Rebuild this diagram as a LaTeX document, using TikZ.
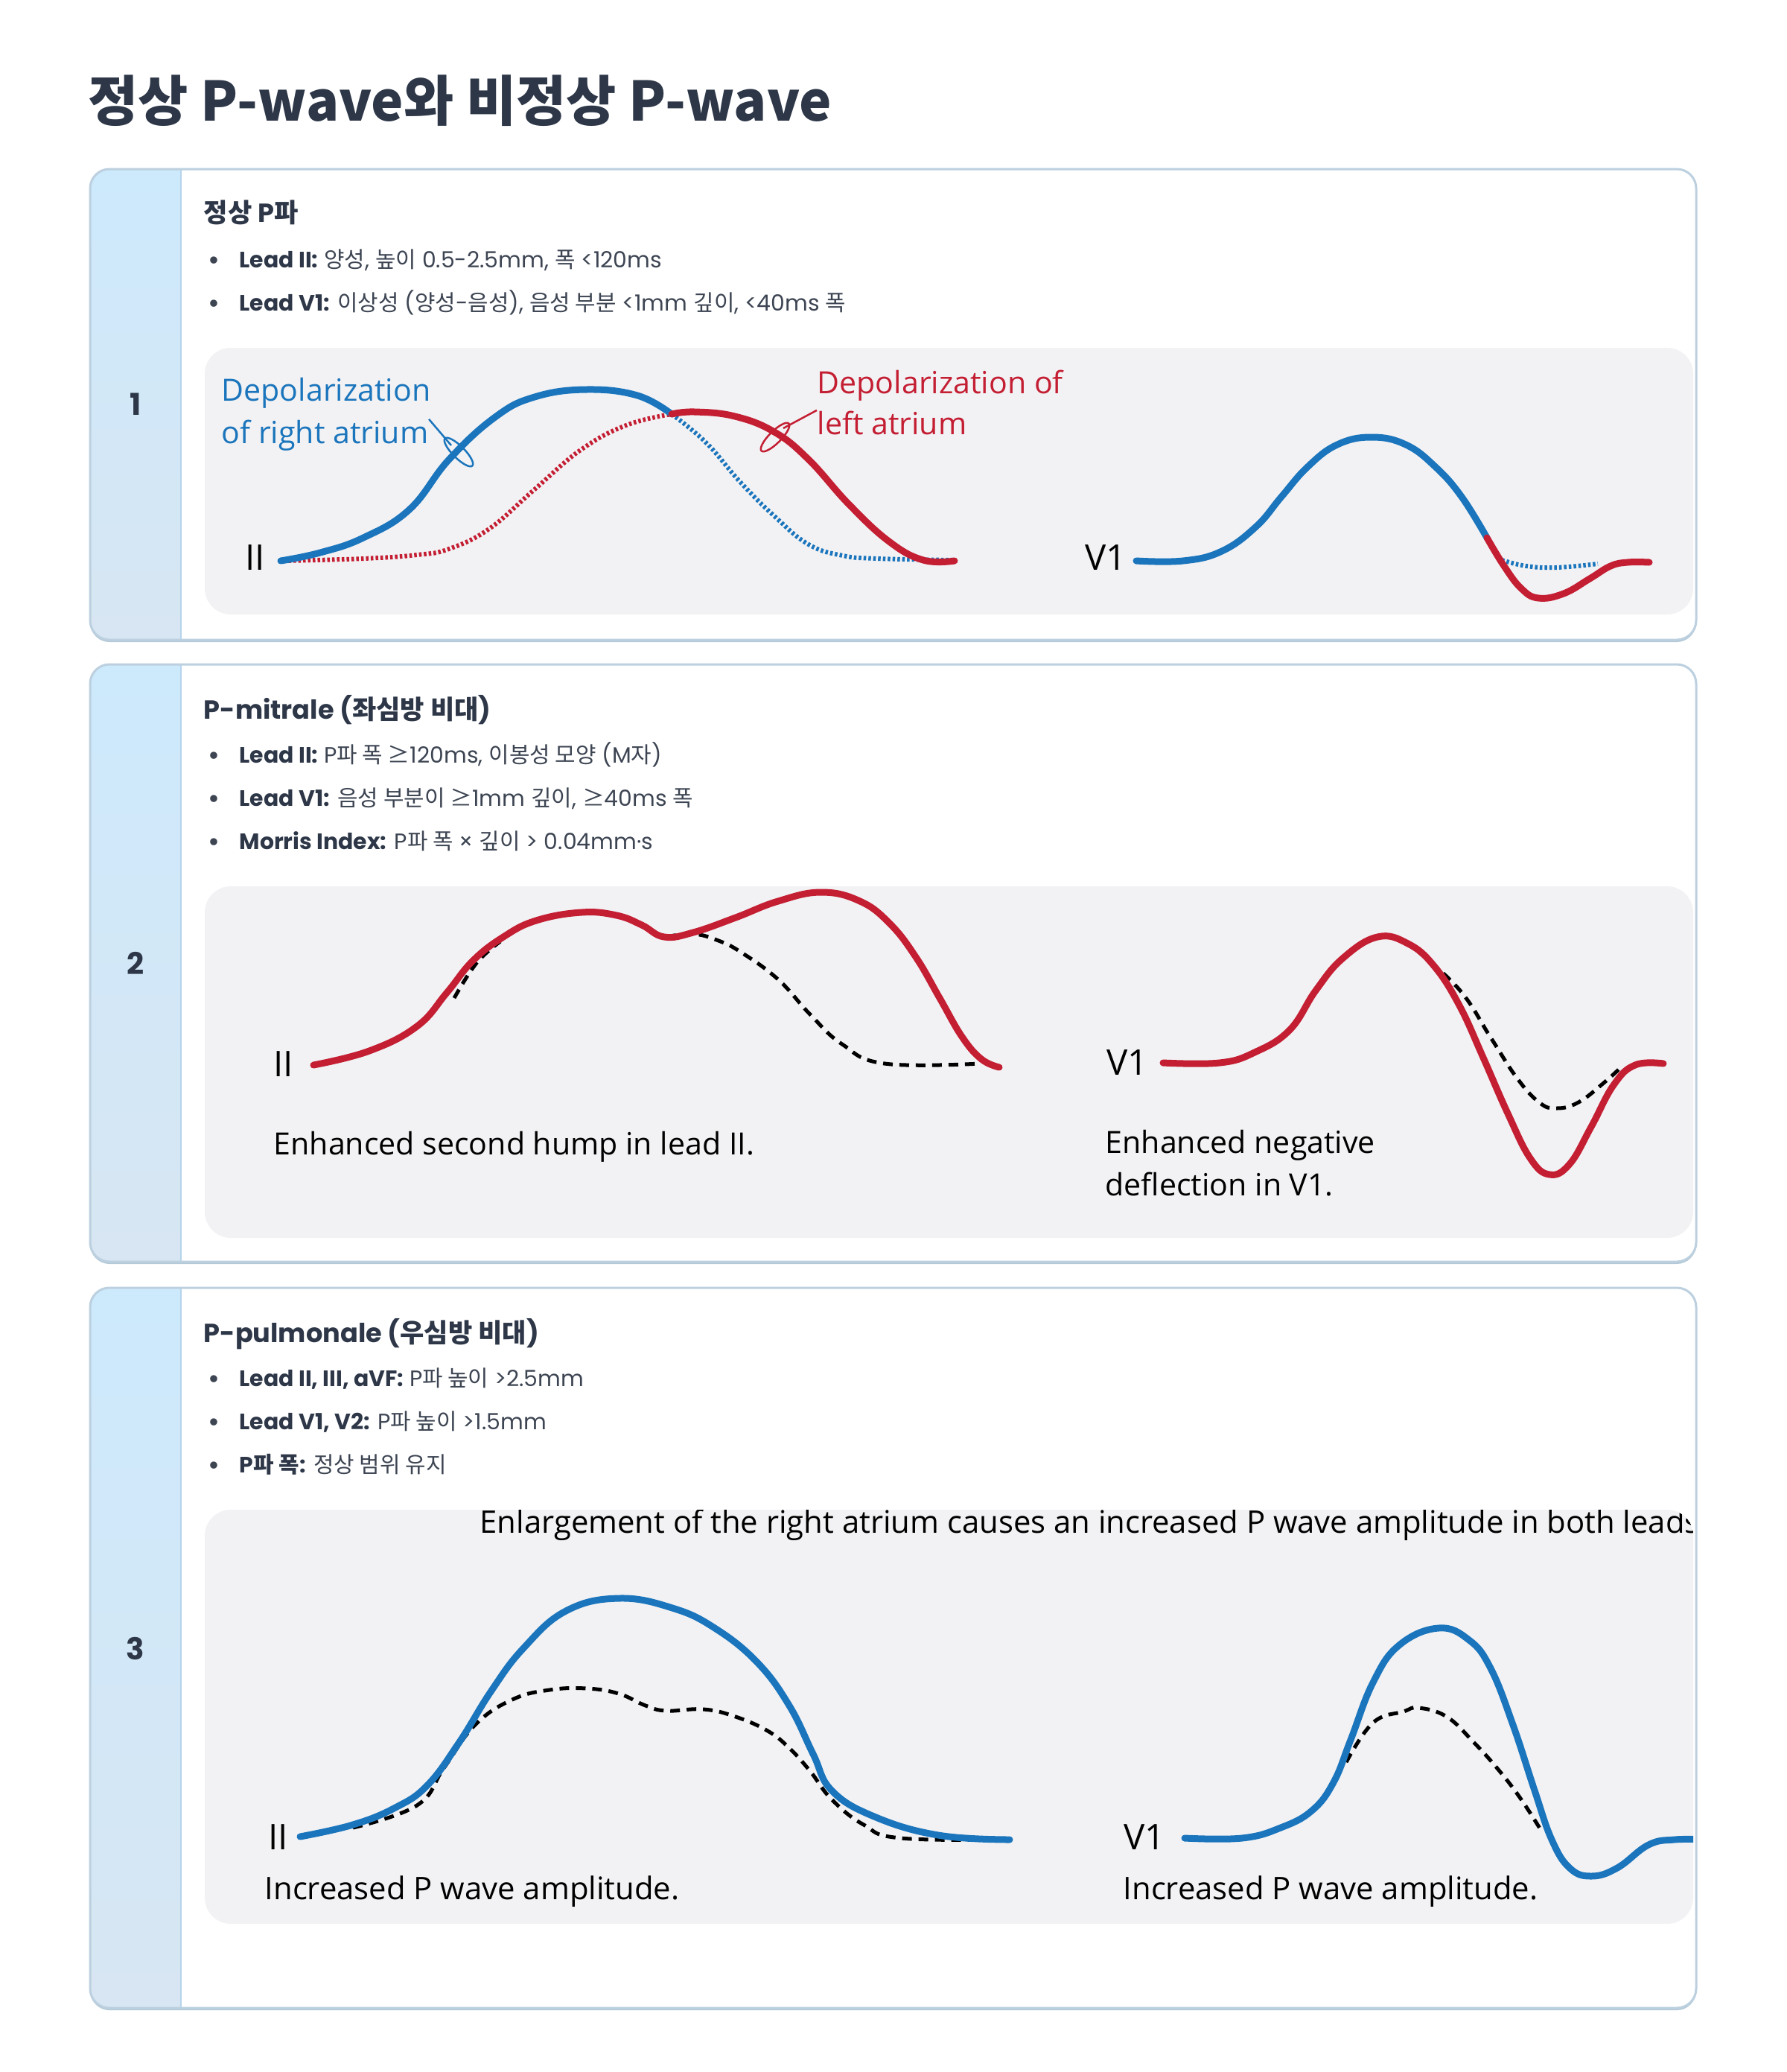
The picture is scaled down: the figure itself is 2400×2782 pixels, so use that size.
\documentclass[tikz,border=0pt]{standalone}
\usepackage{fontspec}
\setmainfont{Poppins}
\newfontfamily\krfont{Noto Sans CJK KR}
\newfontfamily\panelfont{Open Sans}
\newcommand\kr[1]{{\krfont #1}}
\newcommand\bul{\makebox[4.2mm][l]{\raisebox{-0.2ex}{\fontsize{11}{11}\selectfont•}}}
\newcommand\lbl[1]{\textcolor{ink}{\textbf{#1}}}

\definecolor{ink}{HTML}{2D3748}
\definecolor{txt}{HTML}{3D4553}
\definecolor{cardline}{HTML}{BCD0DF}
\definecolor{cardshadow}{HTML}{B3C9D8}
\definecolor{striptop}{HTML}{CDE9FC}
\definecolor{stripbot}{HTML}{D7E6F2}
\definecolor{stripedge}{HTML}{B5D4EC}
\definecolor{panelbg}{HTML}{F2F2F4}
\definecolor{ecgblue}{HTML}{1B75BC}
\definecolor{ecgred}{HTML}{C41E33}

\tikzset{
  cardbody/.style={fill=white, rounded corners=2.6mm},
  cardedge/.style={draw=cardline, line width=0.3mm, rounded corners=2.6mm},
  strip/.style={top color=striptop, bottom color=stripbot},
  stripline/.style={draw=stripedge, line width=0.15mm},
  panel/.style={fill=panelbg, rounded corners=3.5mm},
  head/.style={anchor=base west, inner sep=0, text=ink, font=\fontsize{10}{12}\selectfont\bfseries},
  item/.style={anchor=base west, inner sep=0, text=txt, font=\fontsize{8.5}{10}\selectfont},
  num/.style={inner sep=0, text=ink, font=\fontsize{11.5}{13}\selectfont\bfseries},
  leadname/.style={anchor=base west, inner sep=0, font=\panelfont\fontsize{13.5}{16}\selectfont},
  figtext/.style={anchor=base west, inner sep=0, font=\panelfont\fontsize{11.7}{14}\selectfont},
  bigtext/.style={anchor=base west, inner sep=0, font=\panelfont\fontsize{11.9}{14}\selectfont},
  wave/.style={smooth, tension=0.7},
  bluewave/.style={draw=ecgblue, line width=0.9mm, line cap=round, line join=round},
  redwave/.style={draw=ecgred, line width=0.9mm, line cap=round, line join=round},
  bluedots/.style={draw=ecgblue, line width=0.6mm, dash pattern=on 0.35mm off 0.3mm},
  reddots/.style={draw=ecgred, line width=0.6mm, dash pattern=on 0.35mm off 0.3mm},
  normwave/.style={draw=black, line width=0.5mm, dash pattern=on 1.3mm off 0.9mm},
  leader/.style={line width=0.25mm},
}

\begin{document}
\begin{tikzpicture}[x=0.1mm, y=-0.1mm]
    \fill[white] (0,0) rectangle (2400,2782);
    \useasboundingbox (0,0) rectangle (2400,2782);

    % 제목
    \node[anchor=base west, inner sep=0, text=ink, font=\krfont\bfseries\fontsize{20.8}{25}\selectfont] (title) at (118,162) {정상 P-wave와 비정상 P-wave};

    % 카드 1
    \fill[cardshadow, rounded corners=2.6mm] (121,230) rectangle (2278,862);
    \fill[cardbody] (121,227) rectangle (2278,859);
    \begin{scope}
        \clip[rounded corners=2.6mm] (121,227) rectangle (2278,859);
        \shade[strip] (121,227) rectangle (243,859);
    \end{scope}
    \draw[stripline] (243,227) -- (243,859);
    \draw[cardedge] (121,227) rectangle (2278,859);
    \node[num] (n1) at (182,543) {1};
    \node[head] (h1) at (273,298) {\kr{정상 }P\kr{파}};
    \node[item] (b11) at (279,359) {\bul\lbl{Lead II:} \kr{양성}, \kr{높이} 0.5-2.5mm, \kr{폭} <120ms};
    \node[item] (b12) at (279,417) {\bul\lbl{Lead V1:} \kr{이상성} (\kr{양성}-\kr{음성}), \kr{음성 부분} <1mm \kr{깊이}, <40ms \kr{폭}};

    \fill[panel] (275,467) rectangle (2274,825);
    % II
    \node[leadname] (l1a) at (329,765) {II};
    \draw[reddots] plot[wave] coordinates {(381,753) (488,750) (560,745) (603,737) (657,710) (718,657) (780,604) (841,571) (902,556)};
    \draw[bluedots] plot[wave] coordinates {(902,556) (948,594) (994,647) (1040,693) (1086,731) (1132,746) (1179,750) (1282,752)};
    \draw[bluewave] plot[wave] coordinates {(377,753) (430,742) (488,722) (550,684) (603,617) (665,560) (718,533) (787,523) (856,531) (902,556)};
    \draw[redwave] plot[wave] coordinates {(902,556) (933,553) (987,559) (1040,580) (1086,617) (1140,677) (1194,727) (1240,752) (1282,753)};
    \node[figtext, text=ecgblue] (ra1) at (297,538) {Depolarization};
    \node[figtext, text=ecgblue] (ra2) at (297,595) {of right atrium};
    \node[figtext, text=ecgred] (la1) at (1097,528) {Depolarization of};
    \node[figtext, text=ecgred] (la2) at (1097,583) {left atrium};
    \coordinate (rloop) at (606,598);
    \coordinate (lloop) at (1052,575);
    \draw[leader, ecgblue] (ra2.north east) -- (rloop);
    \draw[leader, ecgblue, rotate around={-45:(616,607)}] (616,607) ellipse [x radius=2.6mm, y radius=0.8mm];
    \draw[leader, ecgred] (la2.north west) -- (lloop);
    \draw[leader, ecgred, rotate around={45:(1041,587)}] (1041,587) ellipse [x radius=2.6mm, y radius=0.8mm];
    % V1
    \node[leadname] (l1b) at (1457,765) {V1};
    \draw[bluedots] plot[wave] coordinates {(2017,752) (2050,760) (2090,762) (2146,757)};
    \draw[bluewave] plot[wave] coordinates {(1526,753) (1589,753) (1641,740) (1687,707) (1721,667) (1756,627) (1796,597) (1842,587) (1888,597) (1928,627) (1963,667) (1997,722)};
    \draw[redwave] plot[wave] coordinates {(1997,722) (2020,760) (2043,790) (2066,803) (2100,797) (2135,777) (2163,760) (2186,755) (2215,755)};

    % 카드 2
    \fill[cardshadow, rounded corners=2.6mm] (121,895) rectangle (2278,1697);
    \fill[cardbody] (121,892) rectangle (2278,1694);
    \begin{scope}
        \clip[rounded corners=2.6mm] (121,892) rectangle (2278,1694);
        \shade[strip] (121,892) rectangle (243,1694);
    \end{scope}
    \draw[stripline] (243,892) -- (243,1694);
    \draw[cardedge] (121,892) rectangle (2278,1694);
    \node[num] (n2) at (182,1293) {2};
    \node[head] (h2) at (273,965) {P-mitrale (\kr{좌심방 비대})};
    \node[item] (b21) at (279,1024) {\bul\lbl{Lead II:} P\kr{파 폭 ≥}120ms, \kr{이봉성 모양} (M\kr{자})};
    \node[item] (b22) at (279,1082) {\bul\lbl{Lead V1:} \kr{음성 부분이 ≥}1mm \kr{깊이}, \kr{≥}40ms \kr{폭}};
    \node[item] (b23) at (279,1140) {\bul\lbl{Morris Index:} P\kr{파 폭} × \kr{깊이} > 0.04mm·s};

    \fill[panel] (275,1190) rectangle (2274,1662);
    % II
    \node[leadname] (l2a) at (367,1445) {II};
    \draw[normwave] plot[wave] coordinates {(610,1340) (640,1293) (672,1264)};
    \draw[normwave] plot[wave] coordinates {(895,1258) (931,1254) (965,1263) (996,1279) (1045,1315) (1088,1362) (1131,1402) (1188,1428) (1317,1428)};
    \draw[redwave] plot[wave] coordinates {(421,1430) (496,1411) (560,1378) (600,1333) (635,1290) (676,1258) (720,1236) (781,1225) (828,1229) (862,1242) (892,1258) (931,1252) (988,1232) (1045,1210) (1103,1198) (1155,1210) (1195,1240) (1230,1285) (1262,1340) (1292,1392) (1318,1422) (1342,1433)};
    \node[figtext] (t2a) at (367,1550) {Enhanced second hump in lead II.};
    % V1
    \node[leadname] (l2b) at (1486,1443) {V1};
    \draw[normwave] plot[wave] coordinates {(1905,1278) (1961,1330) (2002,1393) (2037,1447) (2067,1480) (2090,1488) (2120,1480) (2155,1453) (2178,1432)};
    \draw[redwave] plot[wave] coordinates {(1562,1427) (1638,1427) (1685,1413) (1732,1383) (1767,1330) (1803,1287) (1850,1258) (1891,1267) (1926,1297) (1960,1350) (1992,1420) (2025,1495) (2055,1555) (2081,1577) (2108,1563) (2137,1513) (2167,1457) (2196,1430) (2234,1428)};
    \node[figtext] (t2b) at (1484,1548) {Enhanced negative};
    \node[figtext] (t2c) at (1484,1605) {deflection in V1.};

    % 카드 3
    \fill[cardshadow, rounded corners=2.6mm] (121,1732) rectangle (2278,2699);
    \fill[cardbody] (121,1729) rectangle (2278,2696);
    \begin{scope}
        \clip[rounded corners=2.6mm] (121,1729) rectangle (2278,2696);
        \shade[strip] (121,1729) rectangle (243,2696);
    \end{scope}
    \draw[stripline] (243,1729) -- (243,2696);
    \draw[cardedge] (121,1729) rectangle (2278,2696);
    \node[num] (n3) at (182,2213) {3};
    \node[head] (h3) at (273,1802) {P-pulmonale (\kr{우심방 비대})};
    \node[item] (b31) at (279,1861) {\bul\lbl{Lead II, III, aVF:} P\kr{파 높이} >2.5mm};
    \node[item] (b32) at (279,1919) {\bul\lbl{Lead V1, V2:} P\kr{파 높이} >1.5mm};
    \node[item] (b33) at (279,1977) {\bul\lbl{P\kr{파 폭}:} \kr{정상 범위 유지}};

    \fill[panel] (275,2027) rectangle (2274,2583);
    \begin{scope}
        \clip[rounded corners=3.5mm] (275,2027) rectangle (2274,2583);
        \node[bigtext] (t3top) at (644,2058) {Enlargement of the right atrium causes an increased P wave amplitude in both leads};
        % II
        \node[leadname] (l3a) at (360,2483) {II};
        \draw[normwave] plot[wave] coordinates {(474,2454) (560,2424) (596,2374) (638,2316) (688,2282) (738,2269) (788,2267) (831,2274) (867,2290) (895,2297) (945,2295) (988,2305) (1031,2324) (1060,2347) (1088,2378) (1117,2416) (1160,2450) (1210,2468) (1360,2470)};
        \draw[bluewave] plot[wave] coordinates {(403,2466) (474,2450) (531,2427) (574,2397) (617,2339) (660,2270) (703,2213) (760,2163) (831,2146) (903,2159) (960,2186) (1017,2232) (1060,2290) (1092,2355) (1117,2404) (1174,2439) (1260,2464) (1356,2470)};
        \node[bigtext] (t3a) at (355,2550) {Increased P wave amplitude.};
        % V1
        \node[leadname] (l3b) at (1509,2483) {V1};
        \draw[normwave] plot[wave] coordinates {(1808,2366) (1844,2313) (1885,2298) (1905,2293) (1943,2305) (1979,2339) (2014,2378) (2043,2416) (2070,2458)};
        \draw[bluewave] plot[wave] coordinates {(1591,2468) (1668,2468) (1720,2454) (1762,2431) (1791,2393) (1814,2336) (1844,2259) (1879,2209) (1932,2186) (1973,2202) (2002,2240) (2032,2316) (2061,2404) (2084,2470) (2108,2508) (2137,2519) (2172,2508) (2214,2477) (2249,2470) (2290,2470)};
        \node[bigtext] (t3b) at (1508,2550) {Increased P wave amplitude.};
    \end{scope}
\end{tikzpicture}
\end{document}
